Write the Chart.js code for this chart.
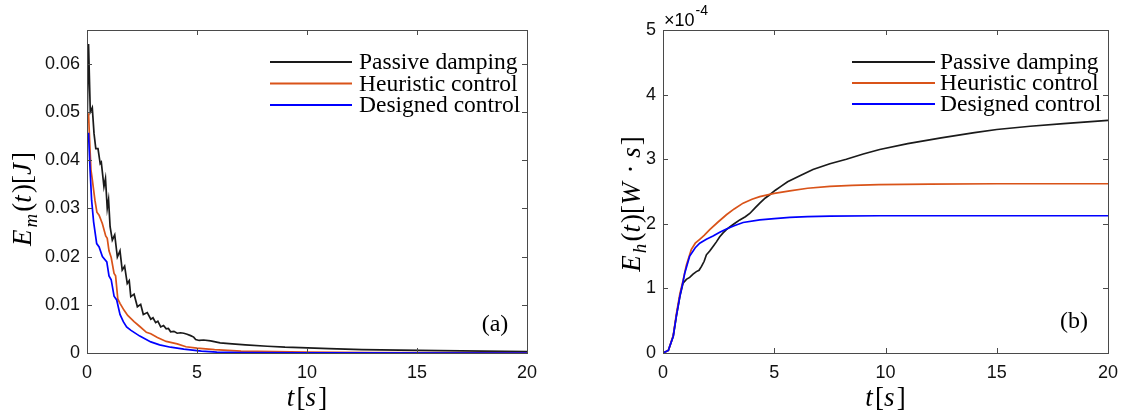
<!DOCTYPE html>
<html>
<head>
<meta charset="utf-8">
<script src="https://cdn.jsdelivr.net/npm/chart.js@4.4.1/dist/chart.umd.min.js"></script>
<style>
  html, body { margin: 0; padding: 0; background: #fff; }
  #wrap { position: relative; width: 1129px; height: 419px; }
  .panel { position: absolute; top: 0; }
</style>
</head>
<body>
<div id="wrap">
  <canvas id="chartA" class="panel" style="left:0" width="560" height="419"></canvas>
  <canvas id="chartB" class="panel" style="left:565px" width="564" height="419"></canvas>
</div>
<script>
// ---- data ----
const seriesLabels = ["Passive damping", "Heuristic control", "Designed control"];
const seriesColors = ["#1a1a1a", "#D95319", "#0000FF"];

// (a) mechanical energy E_m(t) [J]
const tPassiveA = [0, 0.07, 0.15, 0.24, 0.32, 0.4, 0.5, 0.6, 0.65, 0.77, 0.84, 0.92, 0.98, 1.05, 1.15, 1.26, 1.38, 1.5, 1.6, 1.71, 1.83, 1.92, 1.99, 2.14, 2.29, 2.44, 2.56, 2.74, 2.9, 3.0, 3.12, 3.22, 3.35, 3.48, 3.6, 3.7, 3.8, 3.95, 4.1, 4.25, 4.4, 4.55, 4.71, 4.85, 4.94, 5.1, 5.3, 5.62, 6.05, 6.6, 7.2, 8.2, 9.0, 9.7, 11, 12.5, 14.2, 16, 18, 20];
const emPassive = [0.046, 0.0641, 0.05, 0.0509, 0.0455, 0.0424, 0.0424, 0.0393, 0.0396, 0.0345, 0.0362, 0.03, 0.0318, 0.0262, 0.0234, 0.0245, 0.0199, 0.0212, 0.0172, 0.018, 0.0144, 0.015, 0.0117, 0.0122, 0.0096, 0.0101, 0.008, 0.0084, 0.007, 0.0073, 0.0063, 0.0066, 0.0054, 0.0057, 0.005, 0.0051, 0.0044, 0.0045, 0.0041, 0.0042, 0.0041, 0.0039, 0.0036, 0.0033, 0.0028, 0.0026, 0.0027, 0.0025, 0.0021, 0.0019, 0.0017, 0.0014, 0.0012, 0.0011, 0.0009, 0.0007, 0.0006, 0.0005, 0.0004, 0.0003];
const tHeuristicA = [0, 0.07, 0.12, 0.18, 0.24, 0.36, 0.45, 0.55, 0.7, 0.85, 0.92, 1.0, 1.1, 1.23, 1.3, 1.4, 1.5, 1.68, 1.85, 2.14, 2.4, 2.7, 2.9, 3.2, 3.6, 4.1, 4.5, 5.0, 5.8, 7, 8.5, 10, 13, 20];
const emHeuristic = [0.0476, 0.0497, 0.044, 0.038, 0.036, 0.0317, 0.0292, 0.0286, 0.0268, 0.0243, 0.0238, 0.0212, 0.0198, 0.0165, 0.016, 0.0112, 0.0103, 0.0089, 0.0078, 0.0065, 0.0055, 0.0043, 0.004, 0.0032, 0.0024, 0.0019, 0.0013, 0.001, 0.0007, 0.0004, 0.0003, 0.0002, 0.0001, 0.00005];
const tDesignedA = [0, 0.07, 0.14, 0.21, 0.3, 0.44, 0.55, 0.7, 0.9, 1.0, 1.1, 1.23, 1.35, 1.5, 1.65, 1.8, 2.0, 2.4, 2.9, 3.3, 3.8, 4.4, 5.2, 5.9, 7, 10, 20];
const emDesigned = [0.0455, 0.0455, 0.038, 0.0317, 0.0272, 0.0227, 0.022, 0.02, 0.0189, 0.016, 0.0152, 0.0118, 0.011, 0.008, 0.0065, 0.0054, 0.0047, 0.0035, 0.0023, 0.0017, 0.0012, 0.0008, 0.0004, 0.0002, 0.0001, 0.00003, 0];
const yTicksA = [0, 0.01, 0.02, 0.03, 0.04, 0.05, 0.06];

// (b) harvested energy E_h(t) [W*s], in units of 1e-4
const tPassiveB = [0, 0.24, 0.46, 0.6, 0.76, 0.9, 1.05, 1.2, 1.35, 1.5, 1.62, 1.73, 1.85, 1.95, 2.1, 2.25, 2.4, 2.55, 2.7, 2.85, 3.0, 3.2, 3.45, 3.7, 3.9, 4.15, 4.35, 4.6, 4.8, 5.05, 5.3, 5.6, 6.2, 6.74, 7.5, 8.24, 9.0, 9.74, 11, 12.5, 14, 15, 16.5, 18, 20];
const ehPassive = [0, 0.04, 0.26, 0.57, 0.88, 1.08, 1.14, 1.17, 1.22, 1.26, 1.28, 1.34, 1.42, 1.52, 1.58, 1.65, 1.72, 1.8, 1.86, 1.91, 1.95, 2.0, 2.06, 2.11, 2.16, 2.25, 2.32, 2.4, 2.45, 2.52, 2.58, 2.65, 2.75, 2.84, 2.93, 3.0, 3.08, 3.15, 3.24, 3.33, 3.41, 3.46, 3.51, 3.55, 3.6];
const tHeuristicB = [0, 0.24, 0.46, 0.6, 0.76, 0.9, 1.05, 1.27, 1.45, 1.65, 1.85, 2.1, 2.45, 2.85, 3.2, 3.6, 4.0, 4.35, 5.0, 5.7, 6.5, 7.5, 8.5, 9.7, 12, 15, 20];
const ehHeuristic = [0, 0.04, 0.27, 0.6, 0.92, 1.12, 1.36, 1.6, 1.7, 1.76, 1.82, 1.91, 2.02, 2.14, 2.23, 2.32, 2.38, 2.42, 2.47, 2.51, 2.55, 2.58, 2.595, 2.605, 2.615, 2.62, 2.62];
const tDesignedB = [0, 0.24, 0.46, 0.6, 0.76, 0.9, 0.98, 1.2, 1.45, 1.65, 1.95, 2.25, 2.55, 2.85, 3.2, 3.6, 4.35, 5.0, 5.7, 6.5, 7.5, 9.75, 12, 15, 20];
const ehDesigned = [0, 0.04, 0.26, 0.57, 0.88, 1.1, 1.24, 1.5, 1.63, 1.7, 1.76, 1.81, 1.87, 1.92, 1.97, 2.02, 2.06, 2.08, 2.1, 2.11, 2.12, 2.125, 2.125, 2.125, 2.125];
const yTicksB = [0, 1, 2, 3, 4, 5];

const xTicks = [0, 5, 10, 15, 20];

const SANS = '"Liberation Sans", Arial, sans-serif';
const SERIF = '"Liberation Serif", "Times New Roman", serif';
const AXIS = "#4a4a4a";

function pts(ts, vs) {
  return ts.map((t, i) => ({ x: t, y: vs[i] }));
}

// text with italic / subscript pieces, centred on (cx, cy), optionally rotated
function drawRich(ctx, segs, cx, cy, size, rot) {
  ctx.save();
  ctx.translate(cx, cy);
  ctx.rotate(rot || 0);
  ctx.fillStyle = "#000";
  ctx.textBaseline = "alphabetic";
  ctx.textAlign = "left";
  const fontOf = s => (s.it ? "italic " : "") + (s.sub ? size * 0.7 : size) + "px " + SERIF;
  const adv = s => ctx.measureText(s.t).width + (s.it ? size * 0.08 : 0);
  let w = 0;
  segs.forEach(s => { ctx.font = fontOf(s); w += adv(s); });
  let x = -w / 2;
  segs.forEach(s => {
    ctx.font = fontOf(s);
    ctx.fillText(s.t, x, size * 0.33 + (s.sub ? size * 0.22 : 0));
    x += adv(s);
  });
  ctx.restore();
}

const decor = {
  id: "decor",
  afterDraw(chart, args, o) {
    const { ctx, chartArea: a, scales } = chart;
    ctx.save();
    // box + inward ticks
    ctx.strokeStyle = AXIS;
    ctx.lineWidth = 1;
    ctx.strokeRect(Math.round(a.left) + 0.5, Math.round(a.top) + 0.5, Math.round(a.right - a.left), Math.round(a.bottom - a.top));
    ctx.beginPath();
    scales.x.ticks.forEach(t => {
      const px = Math.round(scales.x.getPixelForValue(t.value)) + 0.5;
      ctx.moveTo(px, a.bottom); ctx.lineTo(px, a.bottom - 5);
      ctx.moveTo(px, a.top); ctx.lineTo(px, a.top + 5);
    });
    scales.y.ticks.forEach(t => {
      const py = Math.round(scales.y.getPixelForValue(t.value)) + 0.5;
      ctx.moveTo(a.left, py); ctx.lineTo(a.left + 5, py);
      ctx.moveTo(a.right, py); ctx.lineTo(a.right - 5, py);
    });
    ctx.stroke();

    // legend
    const lg = o.legend;
    ctx.font = "23.5px " + SERIF;
    ctx.textBaseline = "middle";
    chart.data.datasets.forEach((ds, i) => {
      const y = lg.y + i * lg.dy;
      ctx.strokeStyle = ds.borderColor;
      ctx.lineWidth = 2;
      ctx.beginPath(); ctx.moveTo(lg.x0, y); ctx.lineTo(lg.x1, y); ctx.stroke();
      ctx.fillStyle = "#000";
      ctx.fillText(ds.label, lg.tx, y + 1);
    });

    // panel tag
    ctx.font = "24px " + SERIF;
    ctx.textAlign = "center";
    ctx.fillText(o.tag, o.tagX, o.tagY);

    // axis titles
    const cx = (a.left + a.right) / 2;
    drawRich(ctx, [{ t: "t", it: true }, { t: "[" }, { t: "s", it: true }, { t: "]" }], cx, 397, 27, 0);
    drawRich(ctx, o.yTitle, o.yTitleX, o.yTitleY, 27, -Math.PI / 2);

    // exponent
    if (o.exponent) {
      ctx.textAlign = "left";
      ctx.textBaseline = "alphabetic";
      ctx.font = "18px " + SANS;
      ctx.fillText("\u00d710", a.left + 1, 26);
      const w = ctx.measureText("\u00d710").width;
      ctx.font = "14px " + SANS;
      ctx.fillText(o.exponent, a.left + 2 + w, 15);
    }
    ctx.restore();
  }
};

function makeChart(id, sets, yMax, yTicks, fmt, padRight, yWidth, deco) {
  return new Chart(document.getElementById(id), {
    type: "line",
    data: {
      datasets: sets.map((s, i) => ({
        label: seriesLabels[i],
        data: s,
        borderColor: seriesColors[i],
        borderWidth: 1.7,
        pointRadius: 0,
        tension: 0,
        fill: false,
        order: 2 - i
      }))
    },
    options: {
      responsive: false,
      animation: false,
      layout: { padding: { top: 30, right: padRight, left: 0, bottom: 0 } },
      plugins: { legend: { display: false }, tooltip: { enabled: false }, decor: deco },
      scales: {
        x: {
          type: "linear", min: 0, max: 20,
          afterBuildTicks: s => { s.ticks = xTicks.map(v => ({ value: v })); },
          ticks: { color: "#111", font: { family: SANS, size: 18 }, padding: 9, maxRotation: 0 },
          grid: { display: false, drawTicks: false },
          border: { display: false },
          afterFit: s => { s.height = 66; }
        },
        y: {
          type: "linear", min: 0, max: yMax,
          afterBuildTicks: s => { s.ticks = yTicks.map(v => ({ value: v })); },
          ticks: { color: "#111", font: { family: SANS, size: 18 }, padding: 7, callback: fmt },
          grid: { display: false, drawTicks: false },
          border: { display: false },
          afterFit: s => { s.width = yWidth; }
        }
      }
    },
    plugins: [decor]
  });
}

makeChart("chartA",
  [pts(tPassiveA, emPassive), pts(tHeuristicA, emHeuristic), pts(tDesignedA, emDesigned)],
  0.067, yTicksA, v => (v === 0 ? "0" : v.toFixed(2)), 33, 87,
  {
    legend: { x0: 270, x1: 352, tx: 359, y: 62, dy: 21.5 },
    tag: "(a)", tagX: 495, tagY: 325,
    yTitle: [{ t: "E", it: true }, { t: "m", it: true, sub: true }, { t: "(" }, { t: "t", it: true }, { t: ")" }, { t: "[" }, { t: "J", it: true }, { t: "]" }],
    yTitleX: 22, yTitleY: 199
  });

makeChart("chartB",
  [pts(tPassiveB, ehPassive), pts(tHeuristicB, ehHeuristic), pts(tDesignedB, ehDesigned)],
  5, yTicksB, v => String(v), 21, 98,
  {
    legend: { x0: 287, x1: 370, tx: 375, y: 62, dy: 21 },
    tag: "(b)", tagX: 509, tagY: 322,
    yTitle: [{ t: "E", it: true }, { t: "h", it: true, sub: true }, { t: "(" }, { t: "t", it: true }, { t: ")" }, { t: "[" }, { t: "W", it: true }, { t: " \u00b7 " }, { t: "s", it: true }, { t: "]" }],
    yTitleX: 66, yTitleY: 204,
    exponent: "-4"
  });
</script>
</body>
</html>
